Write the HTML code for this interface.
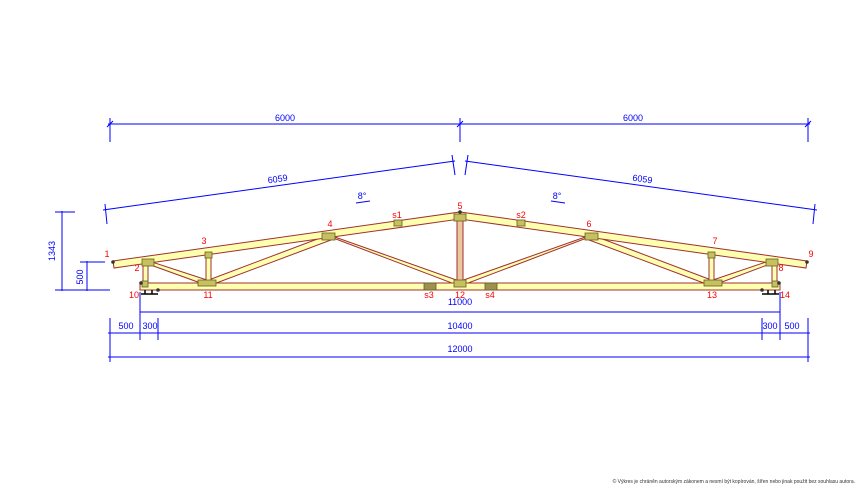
<!DOCTYPE html>
<html><head><meta charset="utf-8"><style>
html,body{margin:0;padding:0;background:#fff;}
svg{display:block;font-family:"Liberation Sans",sans-serif;}
</style></head><body>
<svg width="863" height="488" viewBox="0 0 863 488" xmlns="http://www.w3.org/2000/svg">
<g stroke="#0000ff" stroke-width="1" fill="none">
 <line x1="108" y1="124" x2="810" y2="124"/>
 <line x1="110" y1="118" x2="110" y2="142"/><line x1="460" y1="118" x2="460" y2="142"/><line x1="808" y1="118" x2="808" y2="142"/>
 <line x1="107" y1="127" x2="113" y2="121"/><line x1="457" y1="127" x2="463" y2="121"/><line x1="805" y1="127" x2="811" y2="121"/>
 <line x1="103" y1="210" x2="455" y2="161"/>
 <line x1="465" y1="161" x2="817" y2="210"/>
 <line x1="105" y1="204" x2="107" y2="224"/><line x1="452" y1="155" x2="455" y2="175"/>
 <line x1="468" y1="155" x2="465" y2="175"/><line x1="815" y1="204" x2="813" y2="224"/>
 <line x1="356" y1="203" x2="370" y2="201"/><line x1="551" y1="201" x2="565" y2="203"/>
 <line x1="62" y1="211" x2="62" y2="291"/>
 <line x1="55" y1="212" x2="75" y2="212"/><line x1="55" y1="290" x2="110" y2="290"/>
 <line x1="87" y1="261" x2="87" y2="291"/>
 <line x1="80" y1="262" x2="105" y2="262"/>
 <line x1="140" y1="312" x2="780" y2="312"/>
 <line x1="140" y1="292" x2="140" y2="318"/><line x1="780" y1="292" x2="780" y2="318"/>
 <line x1="108" y1="333" x2="810" y2="333"/>
 <line x1="110" y1="318" x2="110" y2="340"/><line x1="140" y1="318" x2="140" y2="340"/><line x1="158" y1="318" x2="158" y2="340"/>
 <line x1="762" y1="318" x2="762" y2="340"/><line x1="780" y1="318" x2="780" y2="340"/><line x1="808" y1="318" x2="808" y2="340"/>
 <line x1="108" y1="357" x2="810" y2="357"/>
 <line x1="110" y1="340" x2="110" y2="362"/><line x1="808" y1="340" x2="808" y2="362"/>
</g>
<g fill="#0000ff" font-size="9" text-anchor="middle">
 <text x="285" y="121">6000</text><text x="633" y="121">6000</text>
 <text x="278" y="182" transform="rotate(-8 278 182)">6059</text>
 <text x="642" y="182" transform="rotate(8 642 182)">6059</text>
 <text x="362" y="199">8°</text><text x="557" y="199">8°</text>
 <text x="460" y="305">11000</text>
 <text x="126" y="329">500</text><text x="150" y="329">300</text><text x="460" y="329">10400</text>
 <text x="770" y="329">300</text><text x="792" y="329">500</text>
 <text x="460" y="352">12000</text>
 <text x="55" y="251" transform="rotate(-90 55 251)">1343</text>
 <text x="83" y="277" transform="rotate(-90 83 277)">500</text>
</g>
<g fill="#ffffb0" stroke="#a03030" stroke-width="1">
 <polygon points="148,264 152,262 210,281 206,285"/>
 <polygon points="770,264 766,262 710,281 714,285"/>
 <polygon points="206,281 328,235 331,240 211,285"/>
 <polygon points="714,281 592,235 589,240 709,285"/>
 <polygon points="328,236 332,236 462,282 457,285"/>
 <polygon points="592,236 588,236 458,282 463,285"/>
 <rect x="206" y="254" width="5" height="30"/>
 <rect x="709" y="254" width="5" height="30"/>
 <rect x="457" y="216" width="6" height="68" fill="#ecc8a0"/>
 <rect x="143" y="264" width="5" height="26"/>
 <rect x="772" y="264" width="5" height="26"/>
 <rect x="140" y="283" width="640" height="7"/>
 <polygon points="113,261 460,212 460,219 114,268"/>
 <polygon points="807,261 460,212 460,219 806,268"/>
</g>
<g fill="#c8c060" stroke="#606020" stroke-width="0.8">
 <rect x="142" y="259" width="12" height="7"/><rect x="766" y="259" width="12" height="7"/>
 <rect x="198" y="280" width="18" height="6"/><rect x="704" y="280" width="18" height="6"/>
 <rect x="205" y="252" width="7" height="6"/><rect x="708" y="252" width="7" height="6"/>
 <rect x="322" y="233" width="13" height="7"/><rect x="585" y="233" width="13" height="7"/>
 <rect x="394" y="220" width="8" height="6"/><rect x="517" y="220" width="8" height="6"/>
 <rect x="454" y="214" width="12" height="7"/>
 <rect x="454" y="280" width="12" height="7"/>
 <rect x="424" y="283" width="12" height="7" fill="#a09050"/><rect x="485" y="283" width="12" height="7" fill="#a09050"/>
 <rect x="142" y="281" width="6" height="6"/><rect x="772" y="281" width="6" height="6"/>
</g>
<g stroke="#000" stroke-width="1.5" fill="none">
 <path d="M141 294 L158 294 M145 290 L145 294 M152 290 L152 294"/>
 <path d="M762 294 L779 294 M768 290 L768 294 M775 290 L775 294"/>
</g>
<g fill="#333">
 <circle cx="113" cy="262" r="1.8"/><circle cx="807" cy="262" r="1.8"/>
 <circle cx="460" cy="212" r="1.8"/><circle cx="141" cy="283" r="1.8"/><circle cx="779" cy="283" r="1.8"/>
 <circle cx="158" cy="290" r="1.8"/><circle cx="762" cy="290" r="1.8"/>
</g>
<g fill="#ff0000" font-size="9" text-anchor="middle">
 <text x="107" y="257">1</text><text x="137" y="271">2</text><text x="204" y="244">3</text>
 <text x="330" y="227">4</text><text x="397" y="218">s1</text><text x="460" y="209">5</text>
 <text x="521" y="218">s2</text><text x="589" y="227">6</text><text x="715" y="244">7</text>
 <text x="781" y="271">8</text><text x="811" y="257">9</text>
 <text x="134" y="298">10</text><text x="208" y="298">11</text><text x="429" y="298">s3</text>
 <text x="460" y="298">12</text><text x="490" y="298">s4</text><text x="712" y="298">13</text>
 <text x="785" y="298">14</text>
</g>
<text x="855" y="483" font-size="5" fill="#333" text-anchor="end">© Výkres je chráněn autorským zákonem a nesmí být kopírován, šířen nebo jinak použit bez souhlasu autora.</text>
</svg>
</body></html>
